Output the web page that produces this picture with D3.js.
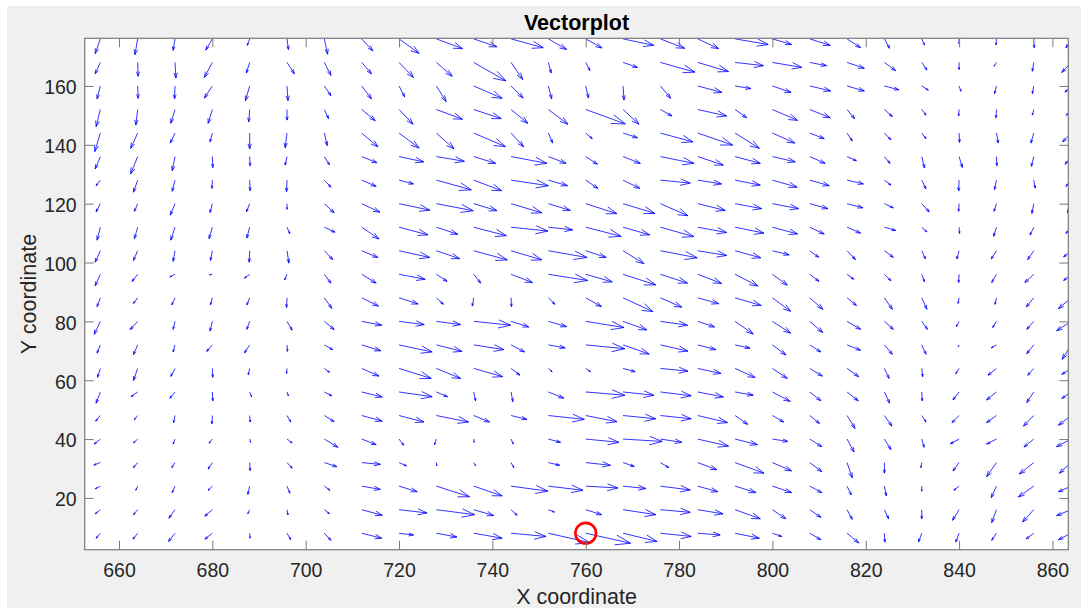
<!DOCTYPE html>
<html>
<head>
<meta charset="utf-8">
<script src="https://cdn.jsdelivr.net/npm/d3@7"></script>
<style>
  body { margin: 0; background: #fff; }
  svg { display: block; font-family: "Liberation Sans", Arial, Helvetica, sans-serif; }
</style>
</head>
<body>
<div id="chart"></div>
<script>
// grid of the vector field
const xs = [656, 664, 672, 680, 688, 696, 704, 712, 720, 728, 736, 744, 752, 760,
            768, 776, 784, 792, 800, 808, 816, 824, 832, 840, 848, 856, 864];
const ys = [176, 168, 160, 152, 144, 136, 128, 120, 112, 104, 96,
            88, 80, 72, 64, 56, 48, 40, 32, 24, 16, 8];

// u components, one row per y (top to bottom)
const U = [
  [-1.1,-0.6,-0.4,-1.4,-0.5,0.3,0.7,2.4,4.3,5.6,5.0,6.9,3.9,3.5,6.6,5.2,4.5,7.1,4.1,4.4,2.9,1.1,0.6,0,-0.1,0.1,-1.1],
  [-1.1,0.1,0.2,-1.7,-0.7,1.6,1.4,2.1,3.1,3.4,6.9,2.5,0.6,0.9,3.1,7.4,6.6,6.1,6.3,3.6,3.7,2.4,1.1,0,-0.5,-0.3,-2.0],
  [-0.7,0.1,-0.1,-1.7,-0.9,0.2,1.4,2.1,1.2,2.1,6.1,2.6,0.7,0.6,0.2,2.2,5.2,3.4,4.0,4.5,3.7,3.1,1.4,0.4,-0.4,-0.3,-1.3],
  [-0.9,-0.4,-0.9,-0.9,-0.2,0,0.9,2.9,3.0,5.6,5.9,3.6,4.2,8.5,3.4,2.5,6.2,2.5,5.4,4.4,1.6,1.7,0.9,-0.1,-0.1,-0.3,-1.0],
  [-1.2,-1.5,-1.0,-0.5,0,-0.4,0.6,3.5,4.3,3.8,6.8,2.7,0.9,1.4,3.1,7.0,7.5,5.2,4.8,3.1,1.1,1.4,0.9,0.1,0.4,-0.6,-1.8],
  [-1.1,-1.5,-0.6,0.1,0.1,-0.4,1.1,3.3,5.3,6.0,4.7,7.7,3.8,2.5,3.7,7.2,5.5,5.4,4.9,3.3,2.0,1.2,0.6,0.7,0.1,-0.5,-1.3],
  [-0.9,-0.9,-0.6,-0.1,0.1,-0.1,1.4,3.1,3.1,7.5,6.0,8.0,4.1,2.6,3.6,6.4,5.1,5.4,5.3,4.2,3.5,1.4,0.9,-0.1,-0.4,0.3,-1.1],
  [-0.9,-0.7,-1.0,-0.5,-0.7,0,2.1,3.9,6.6,7.9,5.0,6.6,4.7,6.7,6.8,5.9,5.9,5.7,5.6,3.9,3.4,1.9,1.6,-0.1,-0.5,-0.4,-0.8],
  [-0.7,-0.7,-0.9,-0.7,-0.6,0.6,2.3,3.7,6.2,4.6,7.0,7.9,5.2,7.6,5.7,7.2,6.2,6.2,5.4,3.1,2.9,2.4,1.1,0.1,-0.6,-0.8,-1.1],
  [-1.1,-0.9,-0.4,-0.4,-0.1,0.4,1.8,3.5,6.6,5.0,7.2,6.6,8.3,4.4,4.5,7.9,6.2,5.5,3.6,1.9,1.8,1.9,0.8,-0.5,-1.1,-1.3,-1.6],
  [-1.1,-1.2,-1.1,-0.6,-1.1,-0.5,1.4,3.1,5.6,2.3,1.5,4.6,8.4,5.7,7.0,5.8,5.1,4.9,3.2,2.0,1.4,1.4,0.6,-0.1,-1.0,-1.9,-1.6],
  [-0.7,-0.9,-0.7,-0.4,-0.6,-0.1,1.6,3.6,4.1,1.5,-0.3,0.1,1.4,3.4,6.4,4.6,4.5,5.6,3.9,2.8,2.0,1.7,1.1,-0.2,-0.3,-1.6,-2.7],
  [-1.3,-1.6,-0.4,-0.5,-0.6,1.1,2.1,4.3,5.4,5.2,7.9,3.8,3.9,8.2,5.1,5.8,3.6,3.9,3.9,2.8,2.9,1.9,1.2,-0.6,-0.8,-1.5,-3.1],
  [-0.7,-0.9,-0.4,-1.2,-1.1,0.1,1.8,4.1,7.1,5.5,6.5,2.9,3.6,8.4,5.6,5.9,3.9,3.2,2.9,2.4,2.9,1.7,0.9,-0.2,-1.1,-1.5,-1.9],
  [-0.6,-0.9,-0.9,0.1,-0.3,-0.1,1.1,3.7,6.9,5.2,6.2,1.9,0.8,1.0,2.6,5.9,5.0,4.3,3.2,2.7,2.5,1.0,0.2,-0.7,-1.8,-1.3,-2.0],
  [-0.9,-1.4,-1.1,0.1,0.4,0.3,1.6,4.4,7.1,2.4,0.4,0.4,3.3,8.4,6.6,6.6,5.5,3.9,3.8,2.4,2.4,1.1,0.1,-1.3,-2.1,-1.5,-2.0],
  [-1.0,-0.7,-0.3,-0.1,0.1,0.8,2.1,4.4,5.3,6.9,3.4,3.4,7.7,6.7,7.0,6.6,6.4,2.7,2.4,2.1,1.7,1.6,0.9,-1.5,-2.1,-2.2,-2.7],
  [-1.3,-0.9,-0.4,-0.7,0.2,1.1,2.9,3.1,1.0,-0.4,0.1,0.5,2.6,7.1,8.4,4.6,6.6,4.8,3.3,2.6,1.5,1.4,0.5,-1.9,-2.1,-2.1,-3.1],
  [-1.4,-0.9,-0.7,-0.9,0.1,1.1,2.7,4.0,1.6,0.1,0.4,0.6,2.4,5.3,2.4,1.8,4.1,6.2,4.1,2.6,1.1,0,-0.2,-1.3,-2.1,-3.1,-2.5],
  [-1.1,-0.4,-0.6,-0.9,-0.4,0.6,1.2,4.0,3.9,7.1,6.1,7.9,7.4,6.9,4.9,6.4,4.3,4.5,4.1,2.6,0.9,0.4,0,-1.1,-1.1,-3.3,-2.7],
  [-1.1,-0.9,-1.3,-1.6,-0.4,0.2,1.1,4.4,6.0,8.2,4.3,1.3,1.3,3.4,7.0,6.4,5.4,5.4,2.9,2.4,1.1,0.9,0,-1.4,-1.0,-2.4,-3.1],
  [-0.9,-1.0,-1.4,-1.6,0.1,0.8,1.4,4.3,3.1,4.4,6.1,7.5,8.9,9.6,7.3,6.6,4.8,5.2,2.0,2.4,2.5,0.1,-0.7,-0.7,-1.0,-1.6,-2.7]
];

// v components, one row per y (top to bottom)
const V = [
  [-5.0,-5.4,-3.9,-3.8,-2.2,-3.6,-5.2,-4.1,-4.9,-3.3,-2.7,-3.0,-3.6,-3.1,-2.2,-3.2,-3.3,-1.9,-1.9,-2.2,-3.0,-3.2,-2.1,-1.6,-2.0,-3.0,-3.1],
  [-3.9,-4.7,-5.3,-5.1,-3.6,-3.9,-4.4,-3.9,-5.1,-4.7,-6.3,-5.8,-3.6,-2.8,-1.7,-3.3,-3.1,-1.1,-1.7,-1.1,-2.0,-2.8,-2.6,-2.4,-1.3,-3.0,-3.4],
  [-4.4,-4.2,-4.4,-4.1,-5.0,-5.0,-3.3,-4.4,-3.7,-5.3,-4.2,-4.1,-4.4,-4.1,-4.8,-4.2,-2.2,-0.9,-2.2,-1.7,-1.7,-1.3,-1.4,-1.8,-2.6,-2.6,-2.1],
  [-5.8,-5.3,-4.7,-4.7,-4.2,-3.6,-3.1,-3.8,-5.0,-3.3,-3.1,-4.7,-5.0,-4.9,-5.0,-2.2,-2.2,-2.8,-3.7,-2.8,-3.1,-2.4,-1.9,-2.2,-2.8,-1.9,-2.0],
  [-6.3,-5.2,-3.4,-3.0,-5.4,-5.0,-4.3,-4.7,-5.1,-5.4,-4.6,-4.7,-3.4,-1.9,-1.6,-3.0,-4.1,-5.2,-3.4,-1.9,-2.7,-2.3,-1.9,-3.2,-3.4,-3.4,-3.0],
  [-4.2,-5.9,-4.8,-3.7,-3.1,-2.9,-2.8,-2.1,-1.8,-1.6,-2.3,-2.3,-2.3,-2.6,-2.3,-2.3,-2.9,-2.3,-1.8,-2.3,-1.4,-2.3,-3.9,-3.7,-3.1,-3.3,-2.6],
  [-1.9,-4.1,-3.8,-2.8,-3.6,-3.9,-2.4,-2.1,-1.3,-3.3,-3.6,-1.9,-1.9,-2.8,-2.8,-1.0,-1.3,-1.7,-2.4,-1.9,-1.3,-1.7,-3.0,-3.7,-3.2,-2.7,-2.1],
  [-2.8,-2.6,-3.9,-3.0,-2.8,-1.9,-3.1,-2.9,-2.2,-2.4,-2.4,-3.1,-2.3,-3.4,-3.3,-4.1,-2.3,-1.7,-1.7,-1.7,-1.4,-1.4,-2.8,-2.6,-2.6,-3.3,-3.1],
  [-4.4,-3.9,-4.4,-3.9,-3.7,-2.2,-1.7,-4.0,-2.6,-2.4,-2.9,-1.3,-0.9,-3.1,-2.6,-3.2,-1.8,-2.0,-2.3,-2.3,-2.0,-1.1,-1.6,-2.1,-3.1,-2.7,-2.1],
  [-3.9,-3.3,-3.6,-3.3,-3.9,-4.2,-3.0,-2.3,-2.3,-2.7,-3.1,-3.1,-2.3,-2.3,-4.4,-2.4,-1.6,-2.4,-1.4,-2.2,-3.0,-2.2,-2.8,-2.8,-2.8,-3.0,-2.1],
  [-3.9,-2.4,-0.9,-0.2,-1.3,-1.9,-3.0,-3.0,-1.7,-2.4,-3.0,-2.8,-2.1,-2.6,-3.6,-3.0,-3.1,-4.0,-3.7,-2.4,-1.7,-2.2,-2.6,-2.8,-2.8,-2.8,-2.1],
  [-3.0,-1.9,-2.4,-2.4,-2.4,-3.3,-3.6,-2.8,-2.1,-2.2,-2.8,-3.0,-2.2,-3.0,-4.7,-3.2,-2.0,-2.6,-4.6,-3.9,-2.6,-3.9,-3.9,-1.9,-2.2,-3.1,-3.7],
  [-4.4,-2.8,-2.7,-3.3,-2.7,-3.0,-2.8,-1.3,-1.1,-1.1,-1.3,-1.9,-1.8,-2.1,-2.9,-1.3,-1.9,-4.3,-4.0,-3.8,-2.7,-2.7,-2.7,-1.8,-2.1,-2.7,-3.2],
  [-2.8,-3.3,-2.4,-2.2,-2.7,-2.2,-1.6,-2.0,-2.4,-2.2,-1.6,-2.4,-1.0,-1.3,-3.1,-2.1,-1.6,-1.1,-3.4,-2.4,-1.8,-3.2,-3.2,-0.7,-1.0,-3.0,-4.9],
  [-3.0,-4.1,-2.7,-3.0,-2.2,-1.7,-1.3,-2.6,-3.4,-3.4,-2.8,-2.3,-1.1,-1.1,-1.1,-0.9,-1.7,-3.1,-3.4,-2.6,-2.8,-3.4,-2.8,-1.8,-2.3,-2.3,-2.0],
  [-3.8,-1.6,-2.1,-3.0,-1.6,-1.3,-1.3,-1.7,-1.6,-1.6,-3.0,-3.3,-2.1,-1.1,-1.1,-1.3,-1.7,-1.1,-3.2,-3.0,-3.0,-3.8,-3.0,-2.7,-2.7,-3.6,-2.2],
  [-1.9,-1.4,-2.4,-2.8,-2.2,-2.2,-2.1,-1.9,-2.2,-2.2,-2.2,-1.3,-1.3,-2.1,-1.1,-1.1,-2.4,-3.0,-2.2,-2.7,-4.4,-3.6,-2.2,-2.4,-2.4,-3.6,-3.3],
  [-1.7,-1.3,-1.7,-1.4,-1.1,-1.3,-2.8,-1.9,-2.1,-1.9,-1.1,-1.7,-1.1,-1.1,-0.8,-1.1,-2.4,-1.9,-0.8,-2.6,-4.4,-3.6,-2.8,-1.6,-1.7,-2.7,-2.6],
  [-0.8,-1.7,-1.7,-2.2,-2.7,-1.9,-1.4,-0.6,-1.1,-1.1,-1.1,-1.7,-0.9,-0.9,-1.3,-1.7,-2.4,-3.6,-2.8,-3.1,-5.2,-3.6,-1.7,-2.8,-4.8,-3.9,-3.6],
  [-0.9,-1.4,-2.2,-1.4,-2.8,-2.4,-1.4,-1.1,-1.9,-3.6,-3.3,-1.7,-1.4,-0.6,-0.8,-1.3,-1.9,-2.2,-2.2,-2.2,-3.0,-3.3,-1.7,-1.4,-3.9,-3.7,-1.9],
  [-1.4,-1.7,-2.9,-2.2,-1.4,-1.8,-1.4,-1.9,-1.1,-1.7,-2.0,-1.9,-0.8,-1.7,-1.7,-0.9,-1.4,-3.1,-3.1,-2.6,-3.3,-3.1,-3.1,-3.6,-4.4,-4.2,-2.0],
  [-1.7,-2.0,-2.8,-2.0,-1.7,-2.2,-2.4,-1.7,-0.6,-1.3,-1.7,-1.1,-3.2,-3.4,-2.8,-1.1,-0.6,-1.7,-1.1,-2.2,-3.3,-3.0,-3.0,-3.0,-2.4,-1.9,-2.2]
];

// highlighted point
const markX = [760];
const markY = [8];

const xTicks = [660, 680, 700, 720, 740, 760, 780, 800, 820, 840, 860];
const yTicks = [20, 40, 60, 80, 100, 120, 140, 160];

// Set dimensions of the axes box
const W = 1081, H = 608;
const box = {left: 84.7, right: 1068.3, top: 38.3, bottom: 549.7};

const svg = d3.select("#chart")
    .append("svg")
    .attr("width", W)
    .attr("height", H);

// figure background
svg.append("rect")
    .attr("x", 7).attr("y", 6)
    .attr("width", W - 7).attr("height", H - 6)
    .attr("fill", "#f0f0f0");

// Set X and Y
const x = d3.scaleLinear()
    .domain([652.65, 863.4])
    .range([box.left, box.right]);

const y = d3.scaleLinear()
    .domain([2.4, 176.2])
    .range([box.bottom, box.top]);

svg.append("rect")
    .attr("x", box.left).attr("y", box.top)
    .attr("width", box.right - box.left)
    .attr("height", box.bottom - box.top)
    .attr("fill", "#fff");

svg.append("clipPath").attr("id", "plotclip")
    .append("rect")
    .attr("x", box.left).attr("y", box.top)
    .attr("width", box.right - box.left)
    .attr("height", box.bottom - box.top);

// flatten the field
let vecs = [];
ys.forEach((yv, i) => {
    xs.forEach((xv, j) => {
        vecs.push({x: xv, y: yv, u: U[i][j], v: V[i][j]});
    });
});

// quiver style arrow: shaft plus open head
const alpha = 0.33, beta = 0.33;
function arrowPath(d) {
    const x0 = x(d.x), y0 = y(d.y);
    const x1 = x(d.x + d.u), y1 = y(d.y + d.v);
    const dx = x1 - x0, dy = y1 - y0;
    const hx1 = x1 - alpha * (dx + beta * dy), hy1 = y1 - alpha * (dy - beta * dx);
    const hx2 = x1 - alpha * (dx - beta * dy), hy2 = y1 - alpha * (dy + beta * dx);
    return `M${x0},${y0}L${x1},${y1}M${hx1},${hy1}L${x1},${y1}L${hx2},${hy2}`;
}

svg.append("g")
    .attr("clip-path", "url(#plotclip)")
    .selectAll("path")
    .data(vecs)
    .join("path")
    .attr("d", arrowPath)
    .attr("fill", "none")
    .attr("stroke", "#0000ff")
    .attr("stroke-width", 0.8);

// red marker
svg.append("g")
    .selectAll("circle")
    .data(markX.map((d, i) => ({x: d, y: markY[i]})))
    .join("circle")
    .attr("cx", d => x(d.x))
    .attr("cy", d => y(d.y))
    .attr("r", 10.3)
    .attr("fill", "none")
    .attr("stroke", "#ff0000")
    .attr("stroke-width", 2.6);

// axes
function styleAxis(g) {
    g.select(".domain").remove();
    g.selectAll(".tick line").attr("stroke", "#7a7a7a");
    g.selectAll("text")
        .attr("fill", "#262626")
        .attr("font-size", "19.5px")
        .attr("font-family", "\"Liberation Sans\", Arial, Helvetica, sans-serif");
}

svg.append("g")
    .attr("transform", `translate(0,${box.bottom})`)
    .call(d3.axisBottom(x).tickValues(xTicks).tickSize(-9).tickPadding(13.5))
    .call(styleAxis);

svg.append("g")
    .attr("transform", `translate(0,${box.top})`)
    .call(d3.axisTop(x).tickValues(xTicks).tickSize(-9).tickFormat(""))
    .call(styleAxis);

svg.append("g")
    .attr("transform", `translate(${box.left},0)`)
    .call(d3.axisLeft(y).tickValues(yTicks).tickSize(-9).tickPadding(8))
    .call(styleAxis)
    .call(g => g.selectAll("text").attr("dy", "0.4em"));

svg.append("g")
    .attr("transform", `translate(${box.right},0)`)
    .call(d3.axisRight(y).tickValues(yTicks).tickSize(-9).tickFormat(""))
    .call(styleAxis);

// axes box
svg.append("rect")
    .attr("x", box.left).attr("y", box.top)
    .attr("width", box.right - box.left)
    .attr("height", box.bottom - box.top)
    .attr("fill", "none")
    .attr("stroke", "#7a7a7a")
    .attr("stroke-width", 1.2);

// title and labels
svg.append("text")
    .attr("x", (box.left + box.right) / 2)
    .attr("y", 30)
    .attr("text-anchor", "middle")
    .attr("font-size", "21.5px")
    .attr("font-weight", "bold")
    .attr("fill", "#000")
    .text("Vectorplot");

svg.append("text")
    .attr("x", (box.left + box.right) / 2)
    .attr("y", 604)
    .attr("text-anchor", "middle")
    .attr("font-size", "21.5px")
    .attr("fill", "#262626")
    .text("X coordinate");

svg.append("text")
    .attr("transform", `translate(36,${(box.top + box.bottom) / 2}) rotate(-90)`)
    .attr("text-anchor", "middle")
    .attr("font-size", "21.5px")
    .attr("fill", "#262626")
    .text("Y coordinate");
</script>
</body>
</html>
